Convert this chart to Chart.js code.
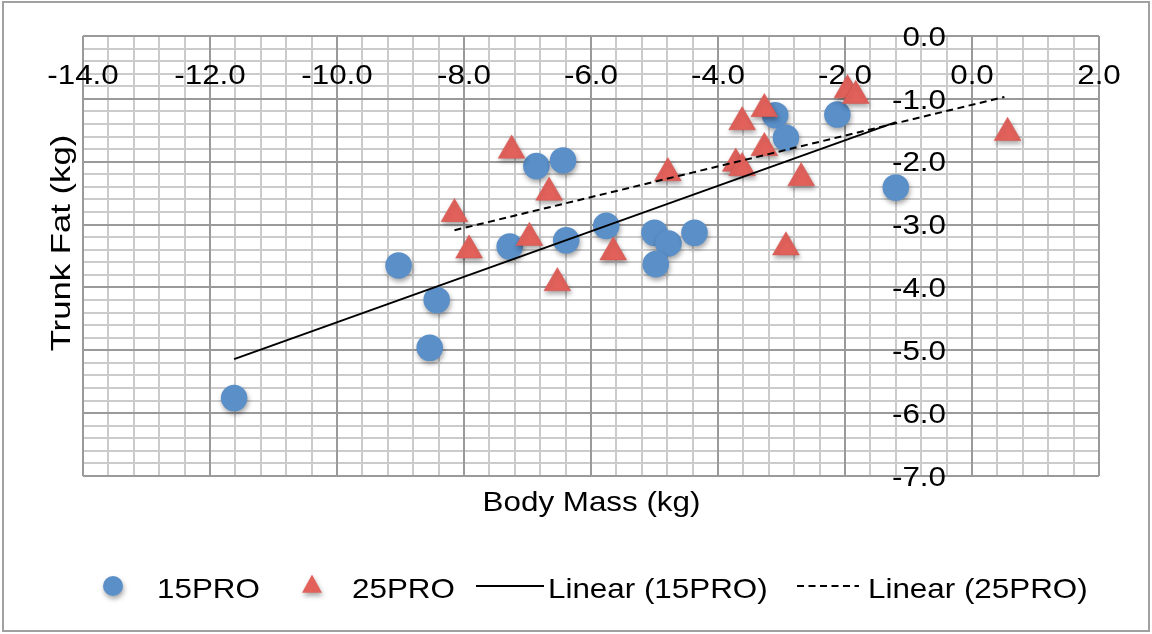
<!DOCTYPE html>
<html><head><meta charset="utf-8">
<script src="https://cdn.jsdelivr.net/npm/chart.js@4.4.1/dist/chart.umd.min.js"></script>
<style>html,body{margin:0;padding:0;background:#fff;overflow:hidden}canvas{display:block}</style>
</head><body>
<canvas id="c" width="1152" height="634"></canvas>
<script>
// ---- data ----
const pro15X = [-11.62, -9.03, -8.43, -8.54, -7.28, -6.86, -6.44, -6.39, -5.76, -5.00, -4.78, -4.98, -4.37, -3.10, -2.93, -2.12, -1.20];
const pro15Y = [-5.76, -3.65, -4.20, -4.96, -3.35, -2.07, -1.98, -3.25, -3.02, -3.13, -3.30, -3.63, -3.13, -1.26, -1.62, -1.25, -2.41];
const pro25X = [-8.15, -7.92, -7.25, -6.97, -6.66, -6.53, -5.65, -4.79, -3.72, -3.62, -3.62, -3.27, -3.27, -2.93, -2.69, -1.96, -1.83, 0.56];
const pro25Y = [-2.83, -3.41, -1.82, -3.21, -2.49, -3.93, -3.44, -2.18, -2.03, -2.10, -1.37, -1.16, -1.78, -3.36, -2.26, -0.86, -0.95, -1.54];
const trend15X = [-11.62, -1.20];
const trend15Y = [-5.14, -1.37];
const trend25X = [-8.15, 0.51];
const trend25Y = [-3.09, -0.97];
const xTickValues = [-14, -12, -10, -8, -6, -4, -2, 0, 2];
const xTickLabels = ['-14.0', '-12.0', '-10.0', '-8.0', '-6.0', '-4.0', '-2.0', '0.0', '2.0'];
const yTickValues = [0, -1, -2, -3, -4, -5, -6, -7];
const yTickLabels = ['0.0', '-1.0', '-2.0', '-3.0', '-4.0', '-5.0', '-6.0', '-7.0'];
const seriesNames = ['15PRO', '25PRO', 'Linear (15PRO)', 'Linear (25PRO)'];
const xTitle = 'Body Mass (kg)';
const yTitle = 'Trunk Fat (kg)';

// ---- styling ----
const FONT = '"Liberation Sans", Arial, Helvetica, sans-serif';
const FSIZE = 28, FSX = 1.12;
const BLUE = '#5a8fc8', RED = '#e2615b';
const MAJOR = '#9a9a9a', MINOR = '#cbcbcb';
const DASH = [7, 4.5];

const pts = (xs, ys) => xs.map((x, i) => ({x, y: ys[i]}));
const isMajor = (v, step) => Math.abs(v / step - Math.round(v / step)) < 1e-6;

function txt(ctx, s, x, y, align, rot, sx) {
  ctx.save();
  ctx.translate(x, y);
  if (rot) ctx.rotate(rot);
  ctx.scale(sx || FSX, 1);
  ctx.font = FSIZE + 'px ' + FONT;
  ctx.textAlign = align;
  ctx.textBaseline = 'middle';
  ctx.fillStyle = '#000';
  ctx.fillText(s, 0, 0);
  ctx.restore();
}
function shadowOn(ctx) {
  ctx.shadowColor = 'rgba(0,0,0,0.35)';
  ctx.shadowBlur = 5;
  ctx.shadowOffsetX = 1;
  ctx.shadowOffsetY = 3;
}

const decor = {
  id: 'decor',
  beforeDraw(chart) {
    const ctx = chart.ctx;
    ctx.save();
    ctx.strokeStyle = '#a0a0a0';
    ctx.lineWidth = 2;
    ctx.strokeRect(3, 2, 1146, 629);
    ctx.restore();
  },
  beforeDatasetsDraw(chart) {
    const ctx = chart.ctx, xs = chart.scales.x, ys = chart.scales.y, a = chart.chartArea;
    // redraw major grid lines on top of minor ones
    ctx.save();
    ctx.strokeStyle = MAJOR;
    ctx.lineWidth = 2;
    xs.ticks.forEach(t => {
      if (!isMajor(t.value, 2)) return;
      const p = Math.round(xs.getPixelForValue(t.value));
      ctx.beginPath(); ctx.moveTo(p, a.top); ctx.lineTo(p, a.bottom); ctx.stroke();
    });
    ys.ticks.forEach(t => {
      if (!isMajor(t.value, 1)) return;
      const p = Math.round(ys.getPixelForValue(t.value));
      ctx.beginPath(); ctx.moveTo(a.left, p); ctx.lineTo(a.right, p); ctx.stroke();
    });
    ctx.restore();
    // tick labels (axes cross inside the plot)
    const yAxisX = xs.getPixelForValue(0);
    const xAxisY = ys.getPixelForValue(0);
    xTickValues.forEach((v, i) => txt(ctx, xTickLabels[i], xs.getPixelForValue(v), xAxisY + 40, 'center'));
    yTickValues.forEach((v, i) => txt(ctx, yTickLabels[i], yAxisX - 26, ys.getPixelForValue(v) + 2, 'right'));
  },
  beforeDatasetDraw(chart, args) {
    if (args.index < 2) { chart.ctx.save(); shadowOn(chart.ctx); }
  },
  afterDatasetDraw(chart, args) {
    if (args.index < 2) chart.ctx.restore();
  },
  afterDraw(chart) {
    const ctx = chart.ctx, a = chart.chartArea;
    // axis titles
    txt(ctx, xTitle, (a.left + a.right) / 2 + 0.5, 503, 'center');
    txt(ctx, yTitle, 62, 243, 'center', -Math.PI / 2, 1.24);
    // legend
    const ly = 586;
    ctx.save(); shadowOn(ctx);
    ctx.fillStyle = BLUE;
    ctx.beginPath(); ctx.arc(113, ly, 10, 0, Math.PI * 2); ctx.fill();
    ctx.fillStyle = RED;
    const r = 11.5;
    ctx.beginPath();
    ctx.moveTo(312, ly - r);
    ctx.lineTo(312 + r * 0.866, ly + r * 0.5 + 1);
    ctx.lineTo(312 - r * 0.866, ly + r * 0.5 + 1);
    ctx.closePath(); ctx.fill();
    ctx.restore();
    ctx.save();
    ctx.strokeStyle = '#000'; ctx.lineWidth = 2;
    ctx.beginPath(); ctx.moveTo(476, ly); ctx.lineTo(544, ly); ctx.stroke();
    ctx.setLineDash(DASH);
    ctx.beginPath(); ctx.moveTo(797, ly); ctx.lineTo(859, ly); ctx.stroke();
    ctx.restore();
    txt(ctx, seriesNames[0], 157, 590, 'left');
    txt(ctx, seriesNames[1], 352, 590, 'left');
    txt(ctx, seriesNames[2], 548, 590, 'left');
    txt(ctx, seriesNames[3], 868, 590, 'left');
  }
};

new Chart(document.getElementById('c'), {
  type: 'scatter',
  data: {
    datasets: [
      {label: seriesNames[0], data: pts(pro15X, pro15Y), pointStyle: 'circle', pointRadius: 13.3, pointHoverRadius: 13.3,
        backgroundColor: BLUE, borderColor: BLUE, borderWidth: 0, order: 2},
      {label: seriesNames[1], data: pts(pro25X, pro25Y), pointStyle: 'triangle', pointRadius: 15.5, pointHoverRadius: 15.5,
        backgroundColor: RED, borderColor: '#d4544e', borderWidth: 0.5, order: 1},
      {label: seriesNames[2], data: pts(trend15X, trend15Y), showLine: true, pointRadius: 0, borderColor: '#000',
        borderWidth: 2, fill: false, order: 0},
      {label: seriesNames[3], data: pts(trend25X, trend25Y), showLine: true, pointRadius: 0, borderColor: '#000',
        borderWidth: 2, borderDash: DASH, fill: false, order: 0}
    ]
  },
  options: {
    responsive: false,
    animation: false,
    devicePixelRatio: 1,
    layout: {padding: {left: 83, top: 36, right: 53, bottom: 158}},
    plugins: {legend: {display: false}, tooltip: {enabled: false}},
    events: [],
    scales: {
      x: {type: 'linear', min: -14, max: 2, position: 'bottom',
        ticks: {stepSize: 0.4, display: false},
        grid: {color: c => isMajor(c.tick.value, 2) ? MAJOR : MINOR, lineWidth: 2, drawTicks: false},
        border: {display: false}},
      y: {type: 'linear', min: -7, max: 0, position: 'left',
        ticks: {stepSize: 0.2, display: false},
        grid: {color: c => isMajor(c.tick.value, 1) ? MAJOR : MINOR, lineWidth: 2, drawTicks: false},
        border: {display: false}}
    }
  },
  plugins: [decor]
});
</script>
</body></html>
